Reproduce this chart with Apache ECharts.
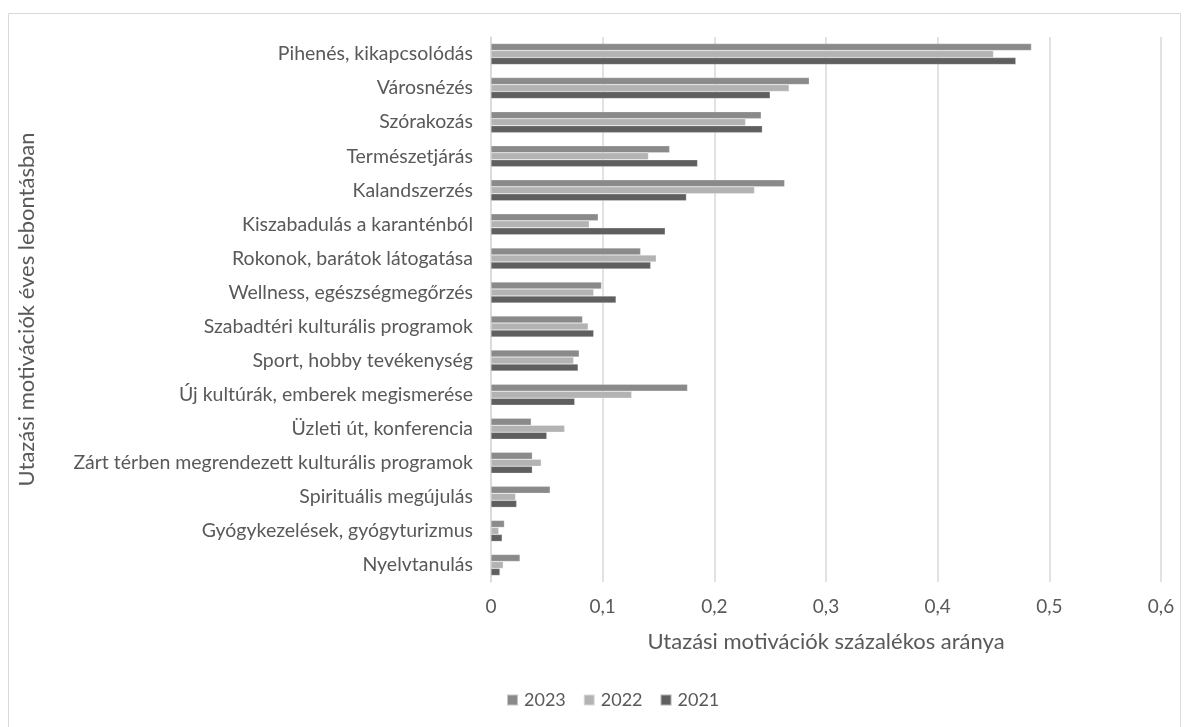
<!DOCTYPE html>
<html>
<head>
<meta charset="utf-8">
<script src="https://cdn.jsdelivr.net/npm/echarts@6/dist/echarts.min.js"></script>
<style>
  html, body { margin: 0; padding: 0; background: #fff; }
  #chart { width: 1189px; height: 727px; }
</style>
</head>
<body>
<div id="chart"></div>
<script>
// Travel motivations by year (share of respondents)
const categories = [
  'Pihenés, kikapcsolódás',
  'Városnézés',
  'Szórakozás',
  'Természetjárás',
  'Kalandszerzés',
  'Kiszabadulás a karanténból',
  'Rokonok, barátok látogatása',
  'Wellness, egészségmegőrzés',
  'Szabadtéri kulturális programok',
  'Sport, hobby tevékenység',
  'Új kultúrák, emberek megismerése',
  'Üzleti út, konferencia',
  'Zárt térben megrendezett kulturális programok',
  'Spirituális megújulás',
  'Gyógykezelések, gyógyturizmus',
  'Nyelvtanulás'
];
const values2023 = [0.484, 0.285, 0.242, 0.160, 0.263, 0.096, 0.134, 0.099, 0.082, 0.079, 0.176, 0.036, 0.037, 0.053, 0.012, 0.026];
const values2022 = [0.450, 0.267, 0.228, 0.141, 0.236, 0.088, 0.148, 0.092, 0.087, 0.074, 0.126, 0.066, 0.045, 0.022, 0.007, 0.011];
const values2021 = [0.470, 0.250, 0.243, 0.185, 0.175, 0.156, 0.143, 0.112, 0.092, 0.078, 0.075, 0.050, 0.037, 0.023, 0.010, 0.008];
const seriesNames = ['2023', '2022', '2021'];
const xTicks = { min: 0, max: 0.6, interval: 0.1 };

const textColor = '#595959';
const font = 'Lato';

const chart = echarts.init(document.getElementById('chart'), null, { renderer: 'canvas' });

const mkSeries = (name, data, color) => ({
  name, type: 'bar', data,
  barWidth: 7, barGap: '0%',
  itemStyle: { color, borderColor: 'rgba(255,255,255,0.5)', borderWidth: 0.5 },
  emphasis: { disabled: true }
});

chart.setOption({
  animation: false,
  backgroundColor: '#fff',
  graphic: [{
    type: 'rect',
    shape: { x: 8.5, y: 13.5, width: 1172, height: 740 },
    style: { fill: 'none', stroke: '#d9d9d9', lineWidth: 1 },
    silent: true
  }],
  grid: { left: 491, right: 28, top: 37, bottom: 145, containLabel: false },
  legend: {
    data: seriesNames,
    bottom: 13,
    left: 501,
    itemWidth: 11, itemHeight: 11, itemGap: 17,
    icon: 'rect',
    textStyle: { color: textColor, fontFamily: font, fontSize: 18, padding: [0, 0, 0, 1] }
  },
  xAxis: {
    type: 'value',
    min: xTicks.min, max: xTicks.max, interval: xTicks.interval,
    name: 'Utazási motivációk százalékos aránya',
    nameLocation: 'middle',
    nameGap: 49,
    nameTextStyle: { color: textColor, fontFamily: font, fontSize: 22 },
    axisLine: { show: false },
    axisTick: { show: false },
    axisLabel: {
      color: textColor, fontFamily: font, fontSize: 19, margin: 15,
      formatter: v => String(Math.round(v * 10) / 10).replace('.', ',')
    },
    splitLine: { show: true, lineStyle: { color: '#d9d9d9', width: 1.5 } }
  },
  yAxis: {
    type: 'category',
    data: categories,
    inverse: true,
    name: 'Utazási motivációk éves lebontásban',
    nameLocation: 'middle',
    nameGap: 453,
    nameRotate: 90,
    nameTextStyle: { color: textColor, fontFamily: font, fontSize: 22 },
    axisLine: { show: true, lineStyle: { color: '#d9d9d9', width: 1.5 } },
    axisTick: { show: false },
    axisLabel: { color: textColor, fontFamily: font, fontSize: 19.5, margin: 18 },
    splitLine: { show: false }
  },
  series: [
    mkSeries('2023', values2023, '#8a8a8a'),
    mkSeries('2022', values2022, '#b3b3b3'),
    mkSeries('2021', values2021, '#5f5f5f')
  ]
});
</script>
</body>
</html>
